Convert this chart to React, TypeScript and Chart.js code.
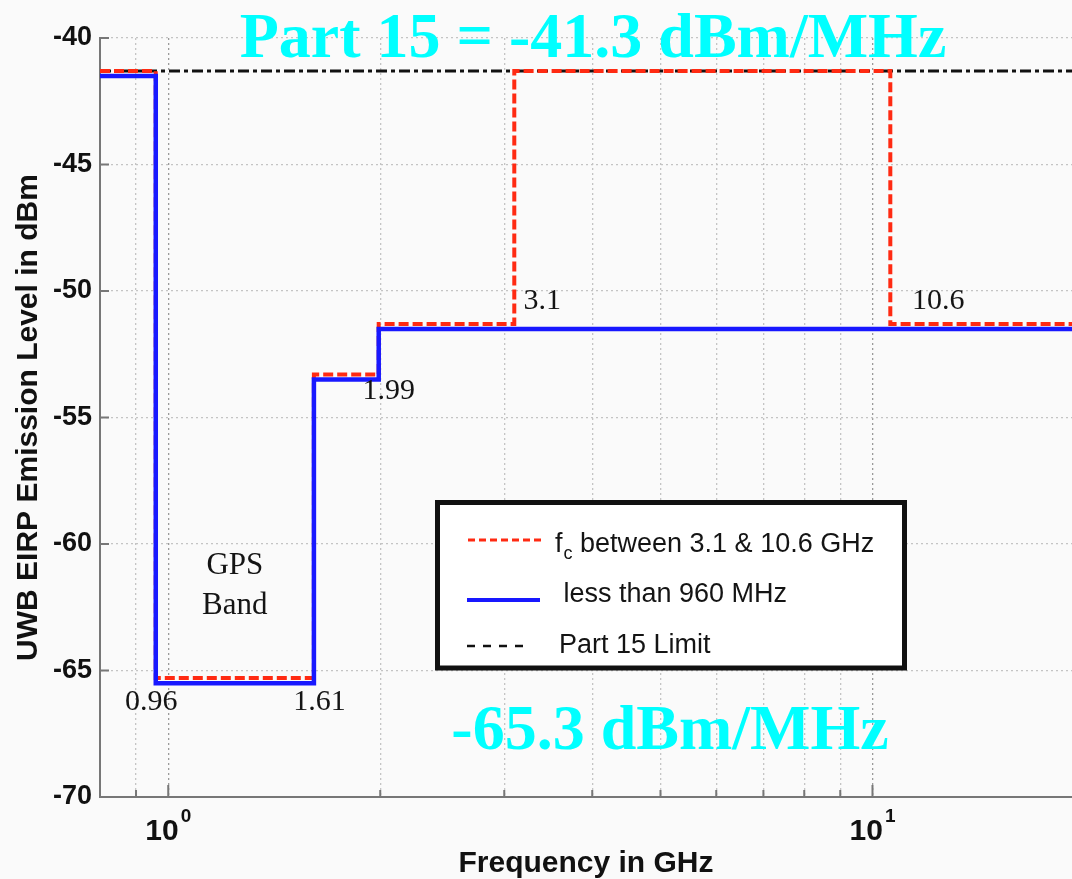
import React, { useEffect, useRef } from 'react';
import { Chart, registerables } from 'chart.js';

Chart.register(...registerables);

// ---------- data ----------
const freqMin = 0.8;
const freqMax = 19.2;
const levelMin = -70;
const levelMax = -40;
const levelTicks = [-70, -65, -60, -55, -50, -45, -40];
const freqGridTicks = [0.9, 1, 2, 3, 4, 5, 6, 7, 8, 9, 10];
const freqMajorTicks = [1, 10];
const freqMajorBase = ['10', '10'];
const freqMajorExp = ['0', '1'];

// fc between 3.1 & 10.6 GHz (step starts)
const fcFreqs = [0.8, 0.96, 1.61, 1.99, 3.1, 10.6, 20];
const fcLevels = [-41.3, -65.3, -53.3, -51.3, -41.3, -51.3, -51.3];
// less than 960 MHz (step starts)
const lowFreqs = [0.8, 0.96, 1.61, 1.99, 20];
const lowLevels = [-41.5, -65.5, -53.5, -51.5, -51.5];
// Part 15 limit
const limitFreqs = [0.8, 20];
const limitLevels = [-41.3, -41.3];

const legendParts = [
  ['f', 'c', ' between 3.1 & 10.6 GHz'],
  [' less than 960 MHz'],
  ['Part 15 Limit'],
];

const breakLabels = ['0.96', '1.61', '1.99', '3.1', '10.6'];
const breakFreqs = [0.96, 1.61, 1.99, 3.1, 10.6];
const breakLevels = [-65.3, -65.3, -53.3, -51.3, -51.3];

const bandLabels = ['GPS', 'Band'];
const bandEdges = [0.96, 1.61];
const bandLevels = [-61.2, -62.75];

const calloutTop = 'Part 15 = -41.3 dBm/MHz';
const calloutBottom = '-65.3 dBm/MHz';
const xTitle = 'Frequency in GHz';
const yTitle = 'UWB EIRP Emission Level in dBm';

// ---------- layout / styles ----------
const SANS = '"Liberation Sans", Arial, Helvetica, sans-serif';
const SERIF = '"Liberation Serif", "Times New Roman", serif';
const RED = '#ff2a12';
const BLUE = '#1818ff';
const AXIS = '#777777';
// label offsets in px: [dx, dy] from anchor (center-aligned text)
const breakOffsets = [
  [-4.5, 32],
  [5.5, 32],
  [10, 25],
  [28, -15],
  [48, -15],
];
const LEGEND_BOX = { x: 437.5, y: 502.5, w: 467, h: 165.5 };

const overlayPlugin = {
  id: 'overlay',
  beforeDraw(chart: any) {
    const { ctx, width, height } = chart;
    ctx.save();
    ctx.fillStyle = '#fafafa';
    ctx.fillRect(0, 0, width, height);
    ctx.restore();
  },
  beforeDatasetsDraw(chart: any) {
    const { ctx, chartArea, scales } = chart;
    const xs = scales.x;
    const ys = scales.y;
    ctx.save();
    ctx.strokeStyle = AXIS;
    ctx.lineWidth = 2;
    ctx.beginPath();
    levelTicks.forEach((v) => {
      const py = ys.getPixelForValue(v);
      ctx.moveTo(chartArea.left, py);
      ctx.lineTo(chartArea.left + 9, py);
    });
    freqGridTicks.forEach((v) => {
      const px = xs.getPixelForValue(v);
      const len = freqMajorTicks.includes(v) ? 12 : 7;
      ctx.moveTo(px, chartArea.bottom);
      ctx.lineTo(px, chartArea.bottom - len);
    });
    ctx.stroke();
    ctx.restore();
  },
  afterDatasetsDraw(chart: any) {
    const { ctx, scales } = chart;
    const xs = scales.x;
    const ys = scales.y;
    ctx.save();
    ctx.fillStyle = '#141414';
    ctx.textAlign = 'center';
    ctx.textBaseline = 'alphabetic';
    ctx.font = `30px ${SERIF}`;
    breakLabels.forEach((t, i) => {
      const px = xs.getPixelForValue(breakFreqs[i]) + breakOffsets[i][0];
      const py = ys.getPixelForValue(breakLevels[i]) + breakOffsets[i][1];
      ctx.fillText(t, px, py);
    });
    ctx.font = `31px ${SERIF}`;
    const mid = Math.sqrt(bandEdges[0] * bandEdges[1]);
    bandLabels.forEach((t, i) => {
      ctx.fillText(t, xs.getPixelForValue(mid), ys.getPixelForValue(bandLevels[i]));
    });
    ctx.restore();
  },
  afterDraw(chart: any) {
    const { ctx, scales, chartArea } = chart;
    const xs = scales.x;
    ctx.save();
    // x tick labels with superscripts
    ctx.fillStyle = '#111';
    ctx.textBaseline = 'alphabetic';
    ctx.textAlign = 'left';
    freqMajorTicks.forEach((v, i) => {
      const px = xs.getPixelForValue(v);
      ctx.font = `bold 30px ${SANS}`;
      const w1 = ctx.measureText(freqMajorBase[i]).width;
      ctx.font = `bold 19px ${SANS}`;
      const w2 = ctx.measureText(freqMajorExp[i]).width;
      const start = px - (w1 + w2 + 2) / 2;
      ctx.font = `bold 30px ${SANS}`;
      ctx.fillText(freqMajorBase[i], start, chartArea.bottom + 43);
      ctx.font = `bold 19px ${SANS}`;
      ctx.fillText(freqMajorExp[i], start + w1 + 2, chartArea.bottom + 25);
    });

    // legend box
    const b = LEGEND_BOX;
    ctx.fillStyle = '#ffffff';
    ctx.fillRect(b.x, b.y, b.w, b.h);
    ctx.strokeStyle = '#111';
    ctx.lineWidth = 5;
    ctx.strokeRect(b.x, b.y, b.w, b.h);

    const ds = chart.data.datasets;
    // row 1: red dashed
    ctx.beginPath();
    ctx.strokeStyle = ds[1].borderColor;
    ctx.lineWidth = 3;
    ctx.setLineDash([7, 4]);
    ctx.moveTo(468, 540);
    ctx.lineTo(545, 540);
    ctx.stroke();
    // row 2: blue solid
    ctx.beginPath();
    ctx.strokeStyle = ds[0].borderColor;
    ctx.lineWidth = 4;
    ctx.setLineDash([]);
    ctx.moveTo(467, 600);
    ctx.lineTo(540, 600);
    ctx.stroke();
    // row 3: black dashed
    ctx.beginPath();
    ctx.strokeStyle = '#111';
    ctx.lineWidth = 2.5;
    ctx.setLineDash([8, 8]);
    ctx.moveTo(467, 646);
    ctx.lineTo(527, 646);
    ctx.stroke();
    ctx.setLineDash([]);

    ctx.fillStyle = '#141414';
    ctx.textAlign = 'left';
    ctx.font = `27px ${SANS}`;
    let tx = 555;
    ctx.fillText(legendParts[0][0], tx, 552);
    tx += ctx.measureText(legendParts[0][0]).width + 1;
    ctx.font = `18px ${SANS}`;
    ctx.fillText(legendParts[0][1], tx, 559);
    tx += ctx.measureText(legendParts[0][1]).width;
    ctx.font = `27px ${SANS}`;
    ctx.fillText(legendParts[0][2], tx, 552);
    ctx.fillText(legendParts[1][0], 556, 602);
    ctx.fillText(legendParts[2][0], 559, 653);

    // cyan callouts
    ctx.fillStyle = '#00ffff';
    ctx.textAlign = 'center';
    ctx.font = `bold 64px ${SERIF}`;
    ctx.fillText(calloutTop, 593, 57);
    ctx.fillText(calloutBottom, 670, 749);
    ctx.restore();
  },
};

export default function App() {
  const canvasRef = useRef<HTMLCanvasElement | null>(null);

  useEffect(() => {
    const canvas = canvasRef.current;
    if (!canvas) return;
    const toPts = (xs: number[], ys: number[]) => xs.map((x, i) => ({ x, y: ys[i] }));
    const chart = new Chart(canvas, {
      type: 'line',
      data: {
        datasets: [
          {
            label: legendParts[1].join('').trim(),
            data: toPts(lowFreqs, lowLevels),
            borderColor: BLUE,
            borderWidth: 4.5,
            stepped: 'before',
            pointRadius: 0,
            fill: false,
            order: 1,
          },
          {
            label: legendParts[0].join(''),
            data: toPts(fcFreqs, fcLevels),
            borderColor: RED,
            borderWidth: 4,
            borderDash: [10, 4],
            stepped: 'before',
            pointRadius: 0,
            fill: false,
            order: 2,
          },
          {
            label: legendParts[2][0],
            data: toPts(limitFreqs, limitLevels),
            borderColor: '#111111',
            borderWidth: 3,
            borderDash: [11, 4, 4, 4],
            pointRadius: 0,
            fill: false,
            order: 3,
          },
        ],
      },
      options: {
        responsive: false,
        animation: false,
        devicePixelRatio: 1,
        layout: { padding: { top: 38, left: 0, right: 0, bottom: 0 } },
        plugins: {
          legend: { display: false },
          tooltip: { enabled: false },
        },
        scales: {
          x: {
            type: 'logarithmic',
            min: freqMin,
            max: freqMax,
            afterBuildTicks: (s: any) => {
              s.ticks = freqGridTicks.map((v) => ({ value: v, major: freqMajorTicks.includes(v) }));
            },
            afterFit: (s: any) => {
              s.height = 82;
            },
            ticks: { display: false },
            grid: {
              drawTicks: false,
              lineWidth: 1.3,
              color: (c: any) => (c.tick && freqMajorTicks.includes(c.tick.value) ? '#9a9a9a' : '#c4c4c4'),
            },
            border: { display: true, color: AXIS, width: 2, dash: [2, 3] },
            title: {
              display: true,
              text: xTitle,
              color: '#111',
              font: { family: SANS, size: 30, weight: 'bold', lineHeight: 1 },
              padding: { top: 0, bottom: 0 },
            },
          },
          y: {
            type: 'linear',
            min: levelMin,
            max: levelMax,
            afterBuildTicks: (s: any) => {
              s.ticks = levelTicks.map((v) => ({ value: v }));
            },
            afterFit: (s: any) => {
              s.width = 100;
            },
            ticks: {
              color: '#111',
              padding: 8,
              font: { family: SANS, size: 27, weight: 'bold' },
            },
            grid: { drawTicks: false, lineWidth: 1.3, color: '#c4c4c4' },
            border: { display: true, color: AXIS, width: 2, dash: [2, 3] },
            title: {
              display: true,
              text: yTitle,
              color: '#111',
              font: { family: SANS, size: 30, weight: 'bold', lineHeight: 1 },
              padding: { top: 13.5, bottom: 0 },
            },
          },
        },
      } as any,
      plugins: [overlayPlugin],
    });
    return () => chart.destroy();
  }, []);

  return (
    <div style={{ position: 'fixed', left: 0, top: 0, width: 1072, height: 879, background: '#fafafa' }}>
      <canvas ref={canvasRef} width={1072} height={879} style={{ display: 'block' }} />
    </div>
  );
}
